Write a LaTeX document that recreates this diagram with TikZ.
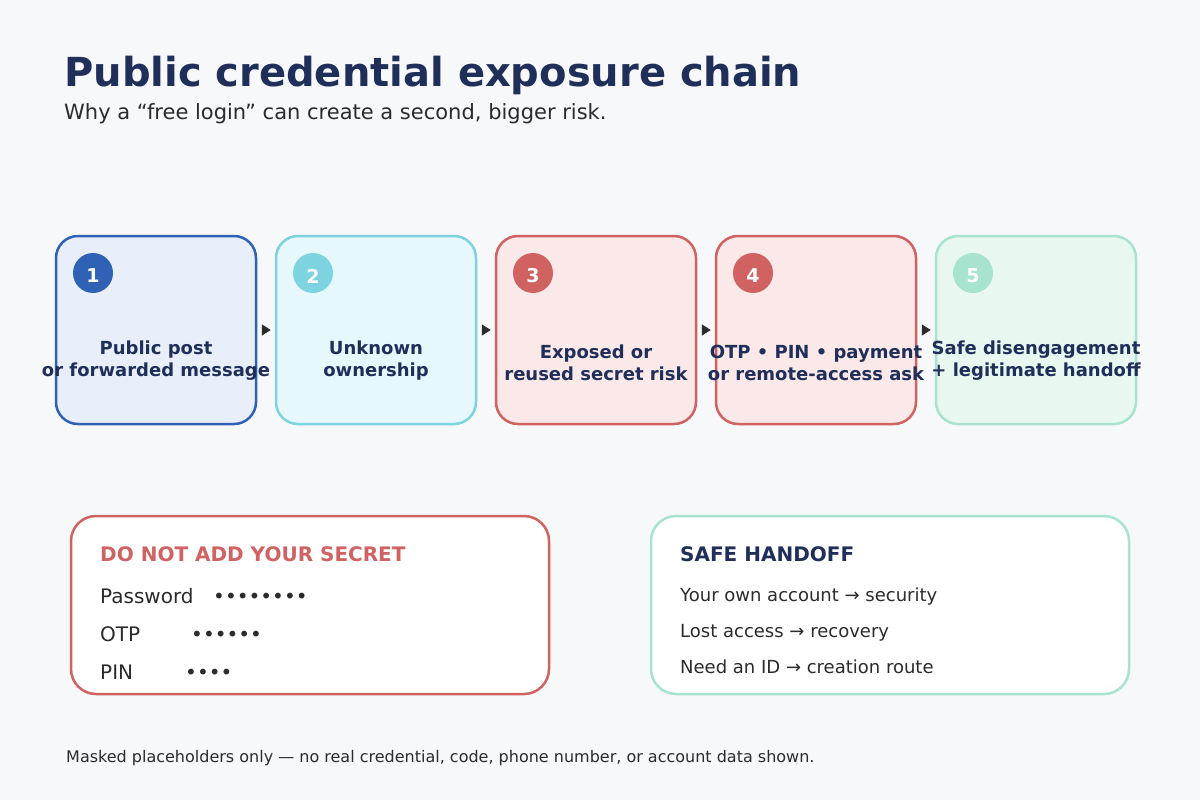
\documentclass[tikz,border=0pt]{standalone}
\usepackage{fontspec}
\setmainfont{DejaVu Sans}
\usetikzlibrary{arrows.meta}
\definecolor{bg}{HTML}{F7F8FA}
\definecolor{navy}{HTML}{1F2F5A}
\definecolor{ink}{HTML}{2B2B2B}
\definecolor{cA}{HTML}{2F62B5}
\definecolor{fA}{HTML}{E8EFFA}
\definecolor{cB}{HTML}{7DD3E0}
\definecolor{fB}{HTML}{E6F8FC}
\definecolor{cC}{HTML}{D06262}
\definecolor{fC}{HTML}{FBE8E8}
\definecolor{cE}{HTML}{A8E3D0}
\definecolor{fE}{HTML}{E8F7F0}
\tikzset{
  stepbox/.style={draw, line width=2.5pt, rounded corners=22pt, minimum width=200pt, minimum height=188pt, inner sep=0pt},
  numcirc/.style={circle, minimum size=40pt, inner sep=0pt},
  numtext/.style={inner sep=0pt, text=white, font=\fontsize{19}{20}\selectfont\bfseries},
  steplabel/.style={align=center, text=navy, font=\fontsize{18}{22}\selectfont\bfseries},
  arr/.style={-{Triangle[length=9pt,width=11pt]}, draw=ink, line width=1.5pt, shorten <=5pt, shorten >=4pt},
  panel/.style={draw, line width=2.5pt, fill=white, rounded corners=25pt, minimum width=478pt, minimum height=178pt, inner sep=0pt},
  ptext/.style={anchor=base west, inner sep=0pt, text=ink, font=\fontsize{20}{22}\selectfont},
  htext/.style={anchor=base west, inner sep=0pt, text=ink, font=\fontsize{18}{20}\selectfont},
}
\begin{document}
\begin{tikzpicture}[x=1pt,y=-1pt]
\fill[bg] (0,0) rectangle (1200,800);
\useasboundingbox (0,0) rectangle (1200,800);
\node[anchor=base west, inner sep=0pt, text=navy, font=\fontsize{40}{44}\selectfont\bfseries] (title) at (64,87) {Public credential exposure chain};
\node[anchor=base west, inner sep=0pt, text=ink, font=\fontsize{21}{24}\selectfont] (sub) at (64,119) {Why a “free login” can create a second, bigger risk.};

\node[stepbox, draw=cA, fill=fA] (b1) at (156,330) {};
\node[stepbox, draw=cB, fill=fB] (b2) at (376,330) {};
\node[stepbox, draw=cC, fill=fC] (b3) at (596,330) {};
\node[stepbox, draw=cC, fill=fC] (b4) at (816,330) {};
\node[stepbox, draw=cE, fill=fE] (b5) at (1036,330) {};

\node[numcirc, fill=cA] (n1) at (93,273) {};
\node[numcirc, fill=cB] (n2) at (313,273) {};
\node[numcirc, fill=cC] (n3) at (533,273) {};
\node[numcirc, fill=cC] (n4) at (753,273) {};
\node[numcirc, fill=cE] (n5) at (973,273) {};
\node[numtext] (m1) at ([yshift=-3pt]n1.center) {1};
\node[numtext] (m2) at ([yshift=-3pt]n2.center) {2};
\node[numtext] (m3) at ([yshift=-3pt]n3.center) {3};
\node[numtext] (m4) at ([yshift=-3pt]n4.center) {4};
\node[numtext] (m5) at ([yshift=-3pt]n5.center) {5};

\node[steplabel] (l1) at (156,361) {Public post\\or forwarded message};
\node[steplabel] (l2) at (376,361) {Unknown\\ownership};
\node[steplabel] (l3) at (596,363) {Exposed or\\reused secret risk};
\node[steplabel] (l4) at (816,363) {OTP • PIN • payment\\or remote-access ask};
\node[steplabel] (l5) at (1036,361) {Safe disengagement\\+ legitimate handoff};

\draw[arr] (b1.east) -- (b2.west);
\draw[arr] (b2.east) -- (b3.west);
\draw[arr] (b3.east) -- (b4.west);
\draw[arr] (b4.east) -- (b5.west);

\node[panel, draw=cC] (p1) at (310,605) {};
\node[panel, draw=cE] (p2) at (890,605) {};

\node[anchor=base west, inner sep=0pt, text=cC, font=\fontsize{20}{22}\selectfont\bfseries] (h1) at (100,561) {DO NOT ADD YOUR SECRET};
\node[ptext] (t1) at (100,603) {Password};
\node[ptext] (d1) at (213,603) {••••••••};
\node[ptext] (t2) at (100,641) {OTP};
\node[ptext] (d2) at (191,641) {••••••};
\node[ptext] (t3) at (100,679) {PIN};
\node[ptext] (d3) at (185,679) {••••};

\node[anchor=base west, inner sep=0pt, text=navy, font=\fontsize{20}{22}\selectfont\bfseries] (h2) at (680,561) {SAFE HANDOFF};
\node[htext] (r1) at (680,601) {Your own account → security};
\node[htext] (r2) at (680,637) {Lost access → recovery};
\node[htext] (r3) at (680,673) {Need an ID → creation route};

\node[anchor=base west, inner sep=0pt, text=ink, font=\fontsize{16}{18}\selectfont] (foot) at (66,762) {Masked placeholders only — no real credential, code, phone number, or account data shown.};
\end{tikzpicture}
\end{document}
